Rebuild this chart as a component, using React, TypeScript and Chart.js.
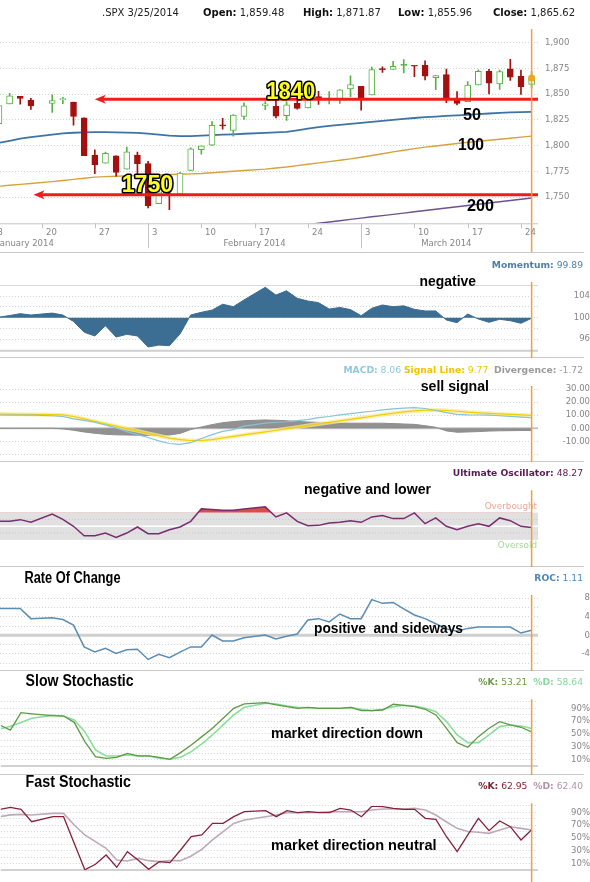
import React, { useEffect, useRef } from 'react';
import { Chart, registerables } from 'chart.js';

Chart.register(...registerables);

const UI_FONT = '"DejaVu Sans", Verdana, sans-serif';
const HEAVY_FONT = '"Liberation Sans", Arial, sans-serif';

// ---------------- data ----------------
const ticker = '.SPX';
const quoteDate = '3/25/2014';

const dates = [
  '2014-01-13', '2014-01-14', '2014-01-15', '2014-01-16', '2014-01-17', '2014-01-21', '2014-01-22', '2014-01-23', '2014-01-24',
  '2014-01-27', '2014-01-28', '2014-01-29', '2014-01-30', '2014-01-31',
  '2014-02-03', '2014-02-04', '2014-02-05', '2014-02-06', '2014-02-07', '2014-02-10', '2014-02-11', '2014-02-12', '2014-02-13', '2014-02-14',
  '2014-02-18', '2014-02-19', '2014-02-20', '2014-02-21', '2014-02-24', '2014-02-25', '2014-02-26', '2014-02-27', '2014-02-28',
  '2014-03-03', '2014-03-04', '2014-03-05', '2014-03-06', '2014-03-07', '2014-03-10', '2014-03-11', '2014-03-12', '2014-03-13', '2014-03-14',
  '2014-03-17', '2014-03-18', '2014-03-19', '2014-03-20', '2014-03-21', '2014-03-24', '2014-03-25',
];

const opens = [
  1841.26, 1821.36, 1840.52, 1847.99, 1844.23, 1841.05, 1844.71, 1842.29, 1826.96, 1791.03, 1783.0, 1790.15, 1777.17, 1790.88,
  1782.68, 1743.82, 1753.38, 1752.99, 1776.01, 1796.2, 1800.45, 1820.12, 1814.82, 1828.46, 1839.03, 1838.22, 1829.24, 1841.07,
  1836.78, 1847.66, 1845.79, 1844.9, 1855.12, 1857.68, 1849.23, 1874.05, 1874.18, 1878.52, 1877.86, 1878.26, 1866.15, 1869.06,
  1845.07, 1842.81, 1858.92, 1872.25, 1860.09, 1874.53, 1867.67, 1859.48,
];
const highs = [
  1843.45, 1839.26, 1850.84, 1847.99, 1846.04, 1849.31, 1846.87, 1842.29, 1826.96, 1795.98, 1793.87, 1790.15, 1798.77, 1793.88,
  1784.83, 1758.73, 1755.79, 1774.06, 1798.03, 1799.94, 1823.54, 1826.55, 1830.25, 1841.65, 1842.87, 1847.5, 1842.79, 1846.13,
  1858.71, 1852.91, 1852.65, 1854.53, 1867.92, 1857.68, 1876.23, 1876.53, 1881.94, 1883.57, 1877.87, 1882.35, 1868.38, 1874.4,
  1852.44, 1862.3, 1873.76, 1874.14, 1873.49, 1883.97, 1873.34, 1871.87,
];
const lows = [
  1815.52, 1821.36, 1840.52, 1840.3, 1835.23, 1832.38, 1840.88, 1820.06, 1790.29, 1772.88, 1783.0, 1770.45, 1777.17, 1772.26,
  1739.66, 1743.82, 1737.92, 1752.99, 1776.01, 1791.83, 1800.41, 1815.97, 1809.22, 1825.59, 1835.01, 1826.99, 1824.58, 1835.6,
  1836.78, 1840.19, 1840.66, 1841.13, 1847.67, 1834.44, 1849.23, 1871.11, 1874.18, 1870.56, 1867.04, 1863.88, 1854.38, 1841.86,
  1839.57, 1842.81, 1858.92, 1850.35, 1854.63, 1863.46, 1849.69, 1855.96,
];
const closes = [
  1819.2, 1838.88, 1848.38, 1845.89, 1838.7, 1843.8, 1844.86, 1828.46, 1790.29, 1781.56, 1792.5, 1774.2, 1794.19, 1782.59,
  1741.89, 1755.2, 1751.64, 1773.43, 1797.02, 1799.84, 1819.75, 1819.26, 1829.83, 1838.63, 1840.76, 1828.75, 1839.78, 1836.25,
  1847.61, 1845.12, 1845.16, 1854.29, 1859.45, 1845.73, 1873.91, 1873.81, 1877.03, 1878.04, 1877.17, 1867.63, 1868.2, 1846.34,
  1841.13, 1858.83, 1872.25, 1860.77, 1872.01, 1866.52, 1857.44, 1865.62,
];

const ma50 = [
  1800.5, 1802.8, 1804.8, 1806.8, 1808.4, 1810.8, 1812, 1812.6, 1813, 1813.2, 1813.2, 1813, 1812.8, 1812.5, 1811.8, 1810.8, 1809.8,
  1809.3, 1809.4, 1809.8, 1810.3, 1810.7, 1811.1, 1811.6, 1812.5, 1813, 1813.5, 1815, 1816.6, 1818, 1819.2, 1820.2, 1821.2, 1822.2,
  1823.2, 1824.2, 1825.1, 1826, 1826.9, 1827.7, 1828.3, 1828.9, 1829.5, 1830, 1830.7, 1831.3, 1831.9, 1832.3, 1832.6, 1832.9,
];
const ma100 = [
  1760, 1760.7, 1761.6, 1762.5, 1763.4, 1765.2, 1766.2, 1767.3, 1768.4, 1769.5, 1770, 1770.4, 1770.8, 1771.1, 1771.4, 1771.7, 1772,
  1772.3, 1772.7, 1773.1, 1773.8, 1774.5, 1775.2, 1776, 1777.3, 1778.4, 1779.4, 1780.7, 1782, 1783.3, 1784.6, 1785.9, 1787.2, 1788.8,
  1790.5, 1792.2, 1794, 1795.6, 1797.2, 1798.6, 1799.8, 1801, 1802.1, 1803.2, 1804.3, 1805.3, 1806.3, 1807.3, 1808.3, 1809.3,
];
const ma200 = [
  null, null, null, null, null, null, null, null, null, null, null, null, null, null, null, null, null, null, null, null, null, null,
  null, null, null, null, null, 1722.3, 1723.5, 1724.8, 1726, 1727.2, 1728.5, 1729.7, 1731, 1732.2, 1733.4, 1734.6, 1735.9, 1737.1,
  1738.3, 1739.6, 1740.8, 1742, 1743.2, 1744.4, 1745.6, 1746.8, 1748, 1749.3,
];

const momentum = [
  null, 100.1, 100.4, 100.75, 100.5, 100.85, 100.5, 99.3, 97.3, 96.6, 98.5, 96.4, 96.9, 96.6, 94.55, 94.9, 94.8, 96.97, 100.5, 101.0,
  101.4, 102.5, 102.05, 103.3, 105.65, 104.2, 105.0, 103.6, 103.1, 102.8, 101.6, 101.9, 101.5, 100.37, 101.75, 102.36, 102.05, 102.2,
  101.55, 101.25, 101.25, 99.57, 99.07, 100.68, 99.76, 99.14, 99.7, 99.44, 98.96, 99.89,
];
const macd = [
  null, 10.15, 10.1, 10.05, 10, 9.6, 9.0, 7.2, 6.0, 4.6, 2.6, 0.3, -2.6, -4.8, -7.0, -9.6, -11.6, -12.3, -11.0, -7.8, -4.8, -2.4, -1.0,
  1.6, 3.9, 4.6, 5.0, 5.8, 6.6, 8.1, 9.0, 10.3, 11.2, 12.1, 13.0, 14.0, 14.8, 15.4, 15.8, 15.1, 13.6, 12.0, 10.7, 10.2, 10.15, 10.0,
  9.6, 9.1, 8.6, 8.06,
];
const signalLine = [
  null, 10.9, 10.8, 10.7, 10.6, 10.4, 10.2, 9.0, 7.2, 5.3, 3.5, 1.6, -0.2, -2.0, -3.9, -5.7, -7.5, -8.7, -9.3, -9.3, -8.6, -7.4, -6.2,
  -5.0, -2.7, -1.5, -0.3, 0.9, 2.1, 3.3, 4.5, 5.6, 6.8, 8.0, 9.2, 10.4, 11.5, 12.5, 13.3, 13.8, 13.9, 13.6, 13.0, 12.3, 11.8, 11.4,
  11.0, 10.6, 10.2, 9.77,
];
const divergence = [
  null, 0, 0, 0, 0, 0, -0.5, -1.5, -2.8, -3.8, -4.6, -5.0, -5.1, -5.3, -5.5, -5.3, -5.1, -3.9, -1.0, 1.0, 2.8, 4.3, 5.1, 5.8, 6.4,
  6.1, 5.8, 5.2, 4.8, 4.5, 4.2, 4.0, 3.9, 3.9, 3.9, 3.9, 3.6, 3.3, 3.0, 2.0, 0.8, -2.0, -3.0, -2.8, -2.5, -2.1, -1.9, -1.8, -1.7,
  -1.72,
];
const ultimate = [
  null, 57.2, 57.5, 59.7, 55.8, 67.9, 60, 50, 36, 36, 40, 33.5, 40, 48.9, 39, 39, 44.9, 48.9, 57.2, 75.5, 74.5, 73.5, 73.5, 75.5,
  78.5, 63.7, 69.6, 57.2, 50.8, 51.3, 54.8, 55.8, 58.2, 55.8, 63.7, 65.7, 61.2, 61.2, 69.6, 53.8, 62.2, 49.9, 44.9, 49.9, 53.8, 49.9,
  62.2, 58.2, 49.9, 48.27,
];
const roc = [
  null, 5.8, 5.8, 5.8, 3.6, 3.8, 3.4, 2.2, -2.5, -3.6, -2.8, -3.9, -3.1, -3.0, -5.2, -4.1, -4.8, -3.6, -2.5, -2.5, 0.07, -1.2, -1.2,
  -0.5, 0.07, -0.8, -0.2, 0.3, 3.3, 3.6, 2.9, 4.6, 3.6, 3.6, 7.7, 6.9, 7.1, 5.7, 4.4, 3.6, 2.5, 1.4, 0.9, 1.5, 1.8, 1.8, 1.8, 1.8,
  0.5, 1.11,
];
const slowK = [
  null, 64, 56, 83.2, 81.5, 78.6, 78, 68.2, 38.1, 14.7, 12.1, 13.7, 19.9, 15.8, 15.8, 13.7, 10.6, 21, 32.9, 45.9, 58.9, 74.4, 90,
  96.8, 98.8, 95.2, 92.6, 90, 91.6, 90, 90, 90, 91.6, 86.4, 86.4, 87.4, 96.3, 94.7, 92.6, 88.5, 79.7, 58.9, 36.6, 29.4, 45.9, 58.9,
  69.3, 64.1, 60.5, 53.21,
];
const slowD = [
  null, 57.7, 62, 68, 74.6, 79, 78, 71.8, 53.7, 25.2, 15.8, 15.8, 17.4, 15.8, 15.8, 12.1, 10.6, 13.7, 22.6, 34.5, 48.5, 64.1, 79.7,
  91.6, 97.8, 96.8, 93.7, 91.6, 91, 90, 90, 90, 91, 88.5, 86.4, 88.5, 92.6, 94.7, 93.7, 90, 84.8, 69.3, 48.5, 36.6, 36.6, 48.5, 61.5,
  64.1, 62.5, 58.64,
];
const fastK = [
  null, 94.6, 97.7, 94.6, 75.4, 83.2, 83.2, 42, 0.5, 9, 23.5, 4.4, 28.7, 15.7, 1.2, 13.2, 11.6, 31.3, 52.1, 54.7, 72.8, 72.8, 83.2,
  91, 92.5, 83.2, 92.5, 89.4, 91, 89.4, 89.4, 96.1, 93.6, 83.2, 99.8, 98.8, 96.1, 94.6, 94.6, 80.6, 79.1, 52, 28.7, 55, 80.7, 61.4,
  76.5, 67.6, 46.9, 62.95,
];
const fastD = [
  null, 83.2, 86, 86.8, 85.8, 88.4, 88.4, 70.2, 54.7, 44.3, 33.9, 15.7, 14.2, 18.3, 14.7, 13.2, 14.7, 14.7, 22, 32.4, 46.9, 59.9,
  72.8, 78, 83.2, 85.8, 89.4, 89.4, 89.4, 90, 91, 91, 91, 91, 93.6, 95.1, 95.1, 95.1, 96.1, 93.6, 85.8, 75, 65, 60, 59, 57.3, 62.5,
  67.6, 65, 62.4,
];

const xTickDates = ['2014-01-13', '2014-01-20', '2014-01-27', '2014-02-03', '2014-02-10', '2014-02-17', '2014-02-24', '2014-03-03', '2014-03-10', '2014-03-17', '2014-03-24'];
const xTickLabels = ['13', '20', '27', '3', '10', '17', '24', '3', '10', '17', '24'];
const monthStartDates = ['2014-01-01', '2014-02-01', '2014-03-01', '2014-04-01'];
const monthLabels = ['January 2014', 'February 2014', 'March 2014'];

const mainGrid = [1750, 1775, 1800, 1825, 1850, 1875, 1900];
const momGrid = [96, 98, 100, 102, 104];
const momLabels = [96, 100, 104];
const macdGrid = [-20, -10, 0, 10, 20, 30];
const macdLabels = [-10, 0, 10, 20, 30];
const rocGrid = [-6, -4, -2, 0, 2, 4, 6, 8];
const rocLabels = [-4, 0, 4, 8];
const stochGrid = [10, 20, 30, 40, 50, 60, 70, 80, 90, 100];
const stochLabels = [10, 30, 50, 70, 90];

// support / resistance annotations (value levels, arrow tip slot)
const levelValues = [1845, 1752.3];
const levelArrowFrom = [9.0, 3.25];
const levelTexts = ['1840', '1750'];
const levelTextSlot = [25.1, 11.52];
const levelTextValue = [1845.8, 1754.9];
const maTexts = ['50', '100', '200'];
const maTextSlot = [43.56, 43.09, 43.94];
const maTextValue = [1825.3, 1796.2, 1736.2];

// ---------------- helpers ----------------
const X_MIN = 0.1;
const X_MAX = 50.6;
const AXIS_W = 52;
const ORANGE = '#f0a134';
const GRID = '#d3d3d3';
const TICK = '#858585';
const RED = '#ee1c1c';
const UP = '#55b443';
const DOWN = '#a3100f';

const BASE_UTC = Date.UTC(2014, 0, 14);
function slotOf(iso: string): number {
  const [yy, mm, dd] = iso.split('-').map(Number);
  const t = Date.UTC(yy, mm - 1, dd);
  const step = 86400000;
  let n = 0;
  if (t >= BASE_UTC) {
    for (let u = BASE_UTC; u < t; u += step) {
      const wd = new Date(u).getUTCDay();
      if (wd !== 0 && wd !== 6) n++;
    }
  } else {
    for (let u = t; u < BASE_UTC; u += step) {
      const wd = new Date(u).getUTCDay();
      if (wd !== 0 && wd !== 6) n--;
    }
  }
  return n;
}
const slots = dates.map(slotOf);
const lastIdx = dates.length - 1;
const lastSlot = slots[lastIdx];
const pts = (vals: (number | null)[]) => slots.map((s, i) => ({ x: s, y: vals[i] }));
const fmt2 = (v: number) => v.toFixed(2);
const fmtPrice = (v: number) => v.toLocaleString('en-US', { minimumFractionDigits: 2, maximumFractionDigits: 2 });

type Seg = { t: string; c: string; b?: boolean };

function drawSegs(ctx: any, segs: Seg[], x: number, y: number, size: number, align: 'left' | 'right') {
  ctx.save();
  ctx.textBaseline = 'middle';
  ctx.textAlign = 'left';
  const ws = segs.map((s) => {
    ctx.font = `${s.b ? 'bold ' : ''}${size}px ${UI_FONT}`;
    return ctx.measureText(s.t).width;
  });
  let cx = align === 'right' ? x - ws.reduce((a, b) => a + b, 0) : x;
  segs.forEach((s, i) => {
    ctx.font = `${s.b ? 'bold ' : ''}${size}px ${UI_FONT}`;
    ctx.fillStyle = s.c;
    ctx.fillText(s.t, cx, y);
    cx += ws[i];
  });
  ctx.restore();
}

function drawFitted(ctx: any, text: string, x: number, baseline: number, width: number, size: number, fill: string, stroke?: string) {
  ctx.save();
  ctx.font = `bold ${size}px ${HEAVY_FONT}`;
  ctx.textAlign = 'left';
  ctx.textBaseline = 'alphabetic';
  const w = ctx.measureText(text).width || 1;
  ctx.translate(x, baseline);
  ctx.scale(width / w, 1);
  if (stroke) {
    ctx.lineWidth = 3.2;
    ctx.lineJoin = 'round';
    ctx.strokeStyle = stroke;
    ctx.strokeText(text, 0, 0);
  }
  ctx.fillStyle = fill;
  ctx.fillText(text, 0, 0);
  ctx.restore();
}

function hLine(ctx: any, x0: number, x1: number, y: number, color: string, width: number, dash: number[] = []) {
  ctx.save();
  ctx.strokeStyle = color;
  ctx.lineWidth = width;
  ctx.setLineDash(dash);
  ctx.beginPath();
  ctx.moveTo(x0, y);
  ctx.lineTo(x1, y);
  ctx.stroke();
  ctx.restore();
}

function yAxis(o: { min: number; max: number; grid: number[]; labels: number[]; fmt: (v: number) => string; pad: number; align: string; gridOn?: boolean }) {
  return {
    type: 'linear',
    position: 'right',
    min: o.min,
    max: o.max,
    afterBuildTicks: (s: any) => {
      s.ticks = o.grid.map((v) => ({ value: v }));
    },
    afterFit: (s: any) => {
      s.width = AXIS_W;
      s.paddingTop = 0;
      s.paddingBottom = 0;
    },
    grid: { display: o.gridOn !== false, color: GRID, lineWidth: 1, drawTicks: false },
    border: { display: false, dash: [1, 2] },
    ticks: {
      display: o.labels.length > 0,
      autoSkip: false,
      padding: o.pad,
      crossAlign: o.align,
      color: TICK,
      font: { family: UI_FONT, size: 8.5 },
      callback: (v: any) => (o.labels.indexOf(Number(v)) >= 0 ? o.fmt(Number(v)) : ''),
    },
  };
}

function baseOptions(padTop: number, padBottom: number, y: any): any {
  return {
    responsive: false,
    maintainAspectRatio: false,
    animation: false,
    devicePixelRatio: 1,
    events: [],
    layout: { padding: { left: 0, right: 0, top: padTop, bottom: padBottom } },
    plugins: { legend: { display: false }, tooltip: { enabled: false }, title: { display: false } },
    scales: {
      x: { type: 'linear', min: X_MIN, max: X_MAX, display: false, offset: false },
      y,
    },
  };
}

function lineDs(vals: (number | null)[], color: string, width: number, extra: any = {}) {
  return {
    type: 'line',
    data: pts(vals),
    borderColor: color,
    backgroundColor: color,
    borderWidth: width,
    pointRadius: 0,
    fill: false,
    tension: 0,
    ...extra,
  };
}

type Note = { text: string; x: number; base: number; w: number; size: number };
type Deco = {
  id: string;
  orangeOffset: number;
  labelY: number;
  segs: Seg[];
  notes: Note[];
  separator: boolean;
  before?: (chart: any) => void;
};

function panelPlugin(d: Deco) {
  return {
    id: d.id,
    beforeDatasetsDraw(chart: any) {
      if (d.before) d.before(chart);
    },
    afterDatasetsDraw(chart: any) {
      const { ctx, chartArea: a, scales } = chart;
      if (d.separator) hLine(ctx, 0, 584, chart.height - 0.5, '#c9c9c9', 1);
      const ox = scales.x.getPixelForValue(lastSlot);
      ctx.save();
      ctx.strokeStyle = ORANGE;
      ctx.lineWidth = 1.5;
      ctx.beginPath();
      ctx.moveTo(ox, a.top + d.orangeOffset);
      ctx.lineTo(ox, chart.height);
      ctx.stroke();
      ctx.restore();
      drawSegs(ctx, d.segs, 583, d.labelY, 9.2, 'right');
      d.notes.forEach((n) => drawFitted(ctx, n.text, n.x, n.base, n.w, n.size, '#000'));
    },
  };
}

// ---------------- charts ----------------
function makeMain(canvas: HTMLCanvasElement) {
  const upDay = closes.map((c, i) => c >= (i > 0 ? closes[i - 1] : opens[i]));
  const colorAt = (i: number) => (upDay[i] ? UP : DOWN);
  const deco = {
    id: 'mainDeco',
    afterDatasetsDraw(chart: any) {
      const { ctx, chartArea: a, scales } = chart;
      const x = scales.x;
      const y = scales.y;
      // support arrows
      levelValues.forEach((v, i) => {
        const yy = y.getPixelForValue(v);
        const x0 = x.getPixelForValue(levelArrowFrom[i]);
        hLine(ctx, x0 + 6, a.right, yy, RED, 3);
        ctx.save();
        ctx.fillStyle = RED;
        ctx.beginPath();
        ctx.moveTo(x0, yy);
        ctx.lineTo(x0 + 11, yy - 4.5);
        ctx.lineTo(x0 + 8, yy);
        ctx.lineTo(x0 + 11, yy + 4.5);
        ctx.closePath();
        ctx.fill();
        ctx.restore();
      });
      // orange "today" line and last close marker
      const ox = x.getPixelForValue(lastSlot);
      ctx.save();
      ctx.strokeStyle = ORANGE;
      ctx.lineWidth = 1.5;
      ctx.beginPath();
      ctx.moveTo(ox, a.top);
      ctx.lineTo(ox, chart.height);
      ctx.stroke();
      ctx.fillStyle = '#f7a21b';
      ctx.beginPath();
      ctx.arc(ox, y.getPixelForValue(closes[lastIdx]), 3.5, 0, Math.PI * 2);
      ctx.fill();
      ctx.restore();
      // labels
      levelTexts.forEach((t, i) =>
        drawFitted(ctx, t, x.getPixelForValue(levelTextSlot[i]), y.getPixelForValue(levelTextValue[i]), 49 + i * 2.6, 23, '#ffff1a', '#000')
      );
      const maW = [18, 26, 27];
      maTexts.forEach((t, i) =>
        drawFitted(ctx, t, x.getPixelForValue(maTextSlot[i]), y.getPixelForValue(maTextValue[i]), maW[i], 17, '#000')
      );
    },
    afterDraw(chart: any) {
      const { ctx, chartArea: a, scales } = chart;
      const x = scales.x;
      // header
      drawSegs(ctx, [{ t: `${ticker} ${quoteDate}`, c: '#222' }], 102, 13, 10, 'left');
      drawSegs(ctx, [{ t: 'Open:', c: '#111', b: true }, { t: ' ' + fmtPrice(opens[lastIdx]), c: '#222' }], 203, 13, 10, 'left');
      drawSegs(ctx, [{ t: 'High:', c: '#111', b: true }, { t: ' ' + fmtPrice(highs[lastIdx]), c: '#222' }], 303, 13, 10, 'left');
      drawSegs(ctx, [{ t: 'Low:', c: '#111', b: true }, { t: ' ' + fmtPrice(lows[lastIdx]), c: '#222' }], 398, 13, 10, 'left');
      drawSegs(ctx, [{ t: 'Close:', c: '#111', b: true }, { t: ' ' + fmtPrice(closes[lastIdx]), c: '#222' }], 493, 13, 10, 'left');
      // x axis
      hLine(ctx, a.left, a.right, a.bottom + 0.5, '#c4c4c4', 1);
      const bounds = monthStartDates.map(slotOf);
      ctx.save();
      ctx.strokeStyle = '#c4c4c4';
      ctx.lineWidth = 1;
      ctx.fillStyle = TICK;
      ctx.font = `8.5px ${UI_FONT}`;
      ctx.textBaseline = 'middle';
      xTickDates.forEach((d, i) => {
        const s = slotOf(d);
        const px = Math.round(x.getPixelForValue(s)) + 0.5;
        const long = bounds.indexOf(s) >= 0;
        ctx.beginPath();
        ctx.moveTo(px, a.bottom);
        ctx.lineTo(px, a.bottom + (long ? 25 : 5));
        ctx.stroke();
        ctx.textAlign = 'left';
        ctx.fillText(xTickLabels[i], px + 3.5, a.bottom + 9);
      });
      ctx.textAlign = 'center';
      monthLabels.forEach((m, i) => {
        const s0 = bounds[i];
        const s1 = Math.min(bounds[i + 1], lastSlot);
        ctx.fillText(m, x.getPixelForValue((s0 + s1) / 2), a.bottom + 20);
      });
      ctx.restore();
      hLine(ctx, 0, 584, chart.height - 0.5, '#c9c9c9', 1);
    },
  };
  return new Chart(canvas, {
    type: 'bar',
    data: {
      datasets: [
        {
          type: 'bar',
          data: slots.map((s, i) => ({ x: s, y: [opens[i], closes[i]] })),
          backgroundColor: (c: any) => (closes[c.dataIndex] >= opens[c.dataIndex] ? '#ffffff' : colorAt(c.dataIndex)),
          borderColor: (c: any) => colorAt(c.dataIndex),
          borderWidth: 1,
          borderSkipped: false,
          barThickness: 6,
          grouped: false,
          minBarLength: 1,
          order: 2,
        },
        {
          type: 'bar',
          data: slots.map((s, i) => ({ x: s, y: [lows[i], highs[i]] })),
          backgroundColor: (c: any) => colorAt(c.dataIndex),
          borderWidth: 0,
          barThickness: 1,
          grouped: false,
          order: 3,
        },
        lineDs(ma50, '#3d74a5', 1.8, { order: 5 }),
        lineDs(ma100, '#d6a23e', 1.4, { order: 6 }),
        lineDs(ma200, '#6b5192', 1.4, { order: 7 }),
      ],
    } as any,
    options: baseOptions(
      29,
      29.7,
      yAxis({ min: 1724.7, max: 1913.3, grid: mainGrid, labels: mainGrid, fmt: (v) => v.toLocaleString('en-US'), pad: 7, align: 'near' })
    ),
    plugins: [deco],
  } as any);
}

function makeMomentum(canvas: HTMLCanvasElement) {
  const MOM = '#3c6d92';
  return new Chart(canvas, {
    type: 'line',
    data: { datasets: [lineDs(momentum, MOM, 1, { fill: { target: { value: 100 }, above: MOM, below: MOM } })] } as any,
    options: baseOptions(32, 7.3, yAxis({ min: 93.86, max: 106.08, grid: momGrid, labels: momLabels, fmt: String, pad: 4.8, align: 'far' })),
    plugins: [
      panelPlugin({
        id: 'mom',
        orangeOffset: -3,
        labelY: 13,
        segs: [{ t: 'Momentum:', c: '#4f7fa6', b: true }, { t: ' ' + fmt2(momentum[lastIdx] as number), c: '#4f7fa6' }],
        notes: [{ text: 'negative', x: 419.6, base: 32.5, w: 56.4, size: 15 }],
        separator: true,
        before: (chart: any) => {
          const a = chart.chartArea;
          hLine(chart.ctx, a.left, a.right, a.top + 0.5, '#dadada', 1);
          hLine(chart.ctx, a.left, a.right, a.bottom, '#cfcfcf', 2);
        },
      }),
    ],
  } as any);
}

function makeMacd(canvas: HTMLCanvasElement) {
  return new Chart(canvas, {
    type: 'line',
    data: {
      datasets: [
        lineDs(divergence, '#8d8d8d', 1, { fill: { target: { value: 0 } }, backgroundColor: 'rgba(136,136,136,0.92)', order: 4 }),
        lineDs(signalLine, 'rgba(250,232,150,0.75)', 4, { order: 3 }),
        lineDs(signalLine, '#f0cf00', 1.2, { order: 2 }),
        lineDs(macd, '#86c3d8', 1.2, { order: 1 }),
      ],
    } as any,
    options: baseOptions(28, 6.2, yAxis({ min: -21, max: 32.3, grid: macdGrid, labels: macdLabels, fmt: fmt2, pad: 4.6, align: 'far' })),
    plugins: [
      panelPlugin({
        id: 'macd',
        orangeOffset: 0,
        labelY: 12.7,
        segs: [
          { t: 'MACD:', c: '#90c8dc', b: true },
          { t: ' ' + fmt2(macd[lastIdx] as number) + ' ', c: '#90c8dc' },
          { t: 'Signal Line:', c: '#efc400', b: true },
          { t: ' ' + fmt2(signalLine[lastIdx] as number) + '  ', c: '#efc400' },
          { t: 'Divergence:', c: '#9a9a9a', b: true },
          { t: ' ' + fmt2(divergence[lastIdx] as number), c: '#9a9a9a' },
        ],
        notes: [{ text: 'sell signal', x: 420.7, base: 32.5, w: 68.3, size: 15 }],
        separator: true,
        before: (chart: any) => {
          const a = chart.chartArea;
          hLine(chart.ctx, a.left, a.right, chart.scales.y.getPixelForValue(0), '#c3c3c3', 2);
        },
      }),
    ],
  } as any);
}

function makeUltimate(canvas: HTMLCanvasElement) {
  return new Chart(canvas, {
    type: 'line',
    data: {
      datasets: [
        lineDs(ultimate, '#7a2c70', 1.5, { fill: { target: { value: 70 }, above: 'rgba(214,70,58,0.95)', below: 'rgba(0,0,0,0)' } }),
      ],
    } as any,
    options: baseOptions(30.2, 6.7, yAxis({ min: 0, max: 100, grid: [0, 100], labels: [], fmt: String, pad: 4, align: 'far', gridOn: false })),
    plugins: [
      panelPlugin({
        id: 'uo',
        orangeOffset: -2,
        labelY: 12,
        segs: [{ t: 'Ultimate Oscillator:', c: '#5c1854', b: true }, { t: ' ' + fmt2(ultimate[lastIdx] as number), c: '#5c1854' }],
        notes: [{ text: 'negative and lower', x: 304, base: 32, w: 127, size: 15 }],
        separator: true,
        before: (chart: any) => {
          const { ctx, chartArea: a, scales } = chart;
          const y = scales.y;
          const y70 = y.getPixelForValue(70);
          const y30 = y.getPixelForValue(30);
          ctx.save();
          ctx.fillStyle = '#e1e1e1';
          ctx.fillRect(a.left, y70, a.right - a.left, y30 - y70);
          ctx.restore();
          hLine(ctx, a.left, a.right, y.getPixelForValue(60), '#c9c9c9', 1, [1, 2]);
          hLine(ctx, a.left, a.right, y.getPixelForValue(40), '#c9c9c9', 1, [1, 2]);
          hLine(ctx, a.left, a.right, y.getPixelForValue(50), '#ffffff', 1.5);
          ctx.save();
          ctx.font = `8.8px ${UI_FONT}`;
          ctx.textAlign = 'right';
          ctx.textBaseline = 'middle';
          ctx.fillStyle = '#e8a797';
          ctx.fillText('Overbought', a.right - 1, y.getPixelForValue(78));
          ctx.fillStyle = '#a6d897';
          ctx.fillText('Oversold', a.right - 1, y.getPixelForValue(22));
          ctx.restore();
        },
      }),
    ],
  } as any);
}

function makeRoc(canvas: HTMLCanvasElement) {
  return new Chart(canvas, {
    type: 'line',
    data: { datasets: [lineDs(roc, '#5a8cb4', 1.5)] } as any,
    options: baseOptions(28, 5.5, yAxis({ min: -6.5, max: 8.7, grid: rocGrid, labels: rocLabels, fmt: String, pad: 4.2, align: 'far' })),
    plugins: [
      panelPlugin({
        id: 'roc',
        orangeOffset: 0,
        labelY: 11.3,
        segs: [{ t: 'ROC:', c: '#4a86b9', b: true }, { t: ' ' + fmt2(roc[lastIdx] as number), c: '#4a86b9' }],
        notes: [
          { text: 'Rate Of Change', x: 24.5, base: 16.3, w: 96, size: 16 },
          { text: 'positive  and sideways', x: 314, base: 66, w: 149, size: 15 },
        ],
        separator: true,
        before: (chart: any) => {
          const a = chart.chartArea;
          hLine(chart.ctx, a.left, a.right, chart.scales.y.getPixelForValue(0), '#cfcfcf', 3);
        },
      }),
    ],
  } as any);
}

function makeStoch(canvas: HTMLCanvasElement, k: (number | null)[], d: (number | null)[], kColor: string, dColor: string, deco: Deco) {
  return new Chart(canvas, {
    type: 'line',
    data: {
      datasets: [lineDs(d, dColor, 1.6, { order: 2 }), lineDs(k, kColor, 1.3, { order: 1 })],
    } as any,
    options: baseOptions(30.9, 0, yAxis({ min: 0, max: 100, grid: stochGrid, labels: stochLabels, fmt: (v) => `${v}%`, pad: 9.8, align: 'far' })),
    plugins: [panelPlugin(deco)],
  } as any);
}

function makeSlow(canvas: HTMLCanvasElement) {
  const c = makeStoch(canvas, slowK, slowD, '#5e9a41', '#8ade9e', {
    id: 'slow',
    orangeOffset: -2.6,
    labelY: 11.3,
    segs: [
      { t: '%K:', c: '#6c9c45', b: true },
      { t: ' ' + fmt2(slowK[lastIdx] as number) + '  ', c: '#6c9c45' },
      { t: '%D:', c: '#86db9c', b: true },
      { t: ' ' + fmt2(slowD[lastIdx] as number), c: '#86db9c' },
    ],
    notes: [
      { text: 'Slow Stochastic', x: 25.6, base: 14.7, w: 108, size: 16 },
      { text: 'market direction down', x: 271, base: 67, w: 152, size: 15 },
    ],
    separator: true,
    before: (chart: any) => {
      const a = chart.chartArea;
      hLine(chart.ctx, a.left, a.right, a.bottom, '#d2d2d2', 2);
    },
  });
  c.options.layout.padding.bottom = 8.9;
  c.update();
  return c;
}

function makeFast(canvas: HTMLCanvasElement) {
  const c = makeStoch(canvas, fastK, fastD, '#86203a', '#bdaab6', {
    id: 'fast',
    orangeOffset: -2.6,
    labelY: 11.7,
    segs: [
      { t: '%K:', c: '#7b1b2c', b: true },
      { t: ' ' + fmt2(fastK[lastIdx] as number) + '  ', c: '#7b1b2c' },
      { t: '%D:', c: '#b492a4', b: true },
      { t: ' ' + fmt2(fastD[lastIdx] as number), c: '#b492a4' },
    ],
    notes: [
      { text: 'Fast Stochastic', x: 25.6, base: 11.7, w: 105.4, size: 16 },
      { text: 'market direction neutral', x: 271, base: 75, w: 165.5, size: 15 },
    ],
    separator: false,
    before: (chart: any) => {
      const a = chart.chartArea;
      hLine(chart.ctx, a.left, a.right, a.bottom, '#d2d2d2', 2);
    },
  });
  c.options.layout.padding.bottom = 11.9;
  c.update();
  return c;
}

function ChartCanvas({ top, height, make }: { top: number; height: number; make: (c: HTMLCanvasElement) => Chart }) {
  const ref = useRef<HTMLCanvasElement | null>(null);
  useEffect(() => {
    if (!ref.current) return;
    const chart = make(ref.current);
    return () => chart.destroy();
  }, [make]);
  return <canvas ref={ref} width={590} height={height} style={{ position: 'absolute', left: 0, top, display: 'block' }} />;
}

export default function App() {
  return (
    <div style={{ position: 'absolute', left: 0, top: 0, width: 590, height: 882, background: '#ffffff', overflow: 'hidden' }}>
      <ChartCanvas top={0} height={253} make={makeMain} />
      <ChartCanvas top={253} height={105} make={makeMomentum} />
      <ChartCanvas top={358} height={104} make={makeMacd} />
      <ChartCanvas top={462} height={105} make={makeUltimate} />
      <ChartCanvas top={567} height={104} make={makeRoc} />
      <ChartCanvas top={671} height={104} make={makeSlow} />
      <ChartCanvas top={775} height={107} make={makeFast} />
    </div>
  );
}
